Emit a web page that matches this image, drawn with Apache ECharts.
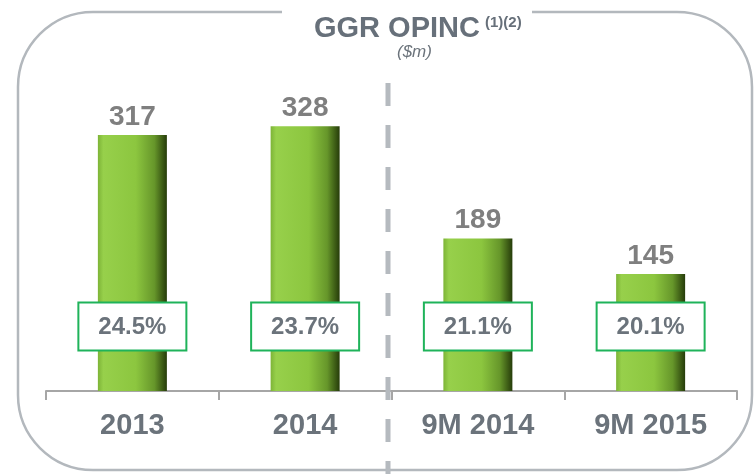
<!DOCTYPE html>
<html>
<head>
<meta charset="utf-8">
<script src="https://cdn.jsdelivr.net/npm/echarts@6/dist/echarts.min.js"></script>
<style>
  html, body { margin: 0; padding: 0; background: #fff; }
  #chart { width: 755px; height: 474px; }
</style>
</head>
<body>
<div id="chart"></div>
<script>
var periods = ['2013', '2014', '9M 2014', '9M 2015'];
var opinc = [317, 328, 189, 145];
var margins = ['24.5%', '23.7%', '21.1%', '20.1%'];

var myChart = echarts.init(document.getElementById('chart'));
var FONT = '"Liberation Sans", Arial, sans-serif';

var barFill = new echarts.graphic.LinearGradient(0, 0, 1, 0, [
  { offset: 0, color: '#7db437' },
  { offset: 0.08, color: '#97d04b' },
  { offset: 0.55, color: '#8cc63f' },
  { offset: 0.82, color: '#66962a' },
  { offset: 1, color: '#263c0a' }
]);

// margin boxes sit at this value level on the y axis
var boxLevel = 80;

var option = {
  animation: false,
  grid: { left: 46, right: 18, top: 68, bottom: 83 },
  xAxis: {
    type: 'category',
    data: periods,
    axisLine: { lineStyle: { color: '#a6a6a6', width: 2 } },
    axisTick: { show: true, length: 9, lineStyle: { color: '#a6a6a6', width: 2 } },
    axisLabel: {
      margin: 20,
      color: '#6b737b',
      fontSize: 29,
      fontWeight: 'bold',
      fontFamily: FONT
    }
  },
  yAxis: {
    type: 'value',
    min: 0,
    max: 400,
    show: false,
    splitLine: { show: false }
  },
  graphic: [
    {
      type: 'rect',
      z: -10,
      shape: { x: 18, y: 12, width: 734, height: 458, r: 75 },
      style: { fill: 'none', stroke: '#b3b8bd', lineWidth: 2.5 }
    },
    {
      type: 'rect',
      z: -9,
      shape: { x: 282, y: 0, width: 250, height: 30 },
      style: { fill: '#fff' }
    },
    {
      type: 'line',
      z: 5,
      shape: { x1: 388, y1: 83, x2: 388, y2: 474 },
      style: { stroke: '#b5babf', lineWidth: 5, lineDash: [23, 19] }
    },
    {
      type: 'text',
      left: 314,
      top: 14,
      style: {
        text: 'GGR OPINC',
        fill: '#67707a',
        fontSize: 29,
        fontWeight: 'bold',
        fontFamily: FONT
      }
    },
    {
      type: 'text',
      left: 485,
      top: 15,
      style: {
        text: '(1)(2)',
        fill: '#67707a',
        fontSize: 15,
        fontWeight: 'bold',
        fontFamily: FONT
      }
    },
    {
      type: 'text',
      left: 397,
      top: 44,
      style: {
        text: '($m)',
        fill: '#6b737b',
        fontSize: 17,
        fontStyle: 'italic',
        fontFamily: FONT
      }
    }
  ],
  series: [
    {
      type: 'bar',
      data: opinc,
      barWidth: 69,
      itemStyle: { color: barFill },
      label: {
        show: true,
        position: 'top',
        distance: 4,
        color: '#7f7f7f',
        fontSize: 28,
        fontWeight: 'bold',
        fontFamily: FONT
      }
    },
    {
      type: 'custom',
      z: 3,
      data: margins.map(function (m, i) { return [i, boxLevel]; }),
      renderItem: function (params, api) {
        var c = api.coord([api.value(0), api.value(1)]);
        var w = 108, h = 48;
        return {
          type: 'group',
          children: [
            {
              type: 'rect',
              shape: { x: c[0] - w / 2, y: c[1] - h / 2, width: w, height: h },
              style: { fill: '#fff', stroke: '#1fb35a', lineWidth: 2 }
            },
            {
              type: 'text',
              x: c[0],
              y: c[1] + 1,
              style: {
                text: margins[params.dataIndex],
                fill: '#6b737b',
                fontSize: 24,
                fontWeight: 'bold',
                fontFamily: FONT,
                align: 'center',
                verticalAlign: 'middle'
              }
            }
          ]
        };
      }
    }
  ]
};

myChart.setOption(option);
</script>
</body>
</html>
